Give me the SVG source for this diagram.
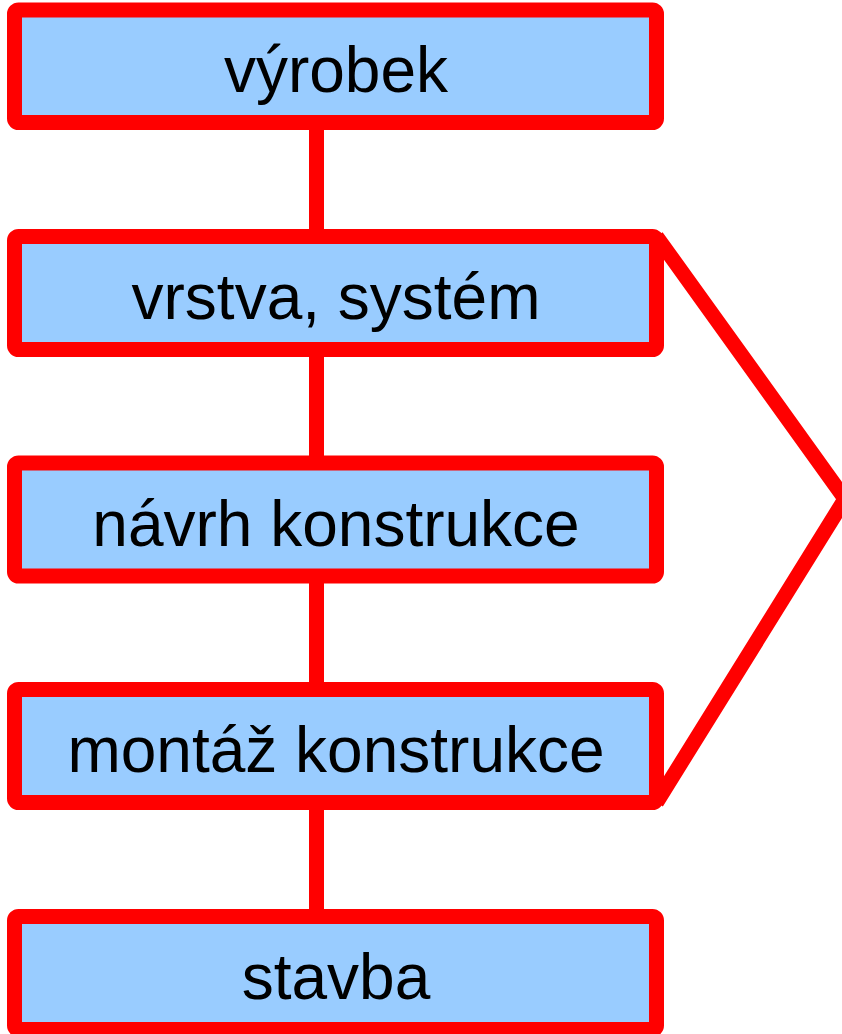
<svg xmlns="http://www.w3.org/2000/svg" width="842" height="1034" viewBox="0 0 842 1034">
<style>
.box{fill:#99ccff;stroke:#ff0000;stroke-width:15}
.lbl{font-family:"Liberation Sans",Arial,sans-serif;font-size:64px;fill:#000;text-anchor:middle}
.con{stroke:#ff0000;stroke-width:15;fill:none}
</style>
<rect width="842" height="1034" fill="#fff"/>
<g id="connectors">
<line class="con" x1="316.5" y1="122" x2="316.5" y2="237"/>
<line class="con" x1="316.5" y1="349" x2="316.5" y2="464"/>
<line class="con" x1="316.5" y1="576" x2="316.5" y2="690"/>
<line class="con" x1="316.5" y1="802" x2="316.5" y2="917"/>
<polyline class="con" points="656.5,236.5 845,499 656.5,802.5" stroke-linejoin="miter"/>
</g>
<g id="n1"><rect class="box" x="14.5" y="10" width="642" height="112.5" rx="4"/><text class="lbl" x="336" y="92">výrobek</text></g>
<g id="n2"><rect class="box" x="14.5" y="236.5" width="642" height="113" rx="4"/><text class="lbl" x="336" y="319">vrstva, systém</text></g>
<g id="n3"><rect class="box" x="14.5" y="463" width="642" height="113" rx="4"/><text class="lbl" x="336" y="545.5">návrh konstrukce</text></g>
<g id="n4"><rect class="box" x="14.5" y="689.5" width="642" height="113" rx="4"/><text class="lbl" x="336" y="772">montáž konstrukce</text></g>
<g id="n5"><rect class="box" x="14.5" y="916.5" width="642" height="113" rx="4"/><text class="lbl" x="336" y="999">stavba</text></g>
</svg>
